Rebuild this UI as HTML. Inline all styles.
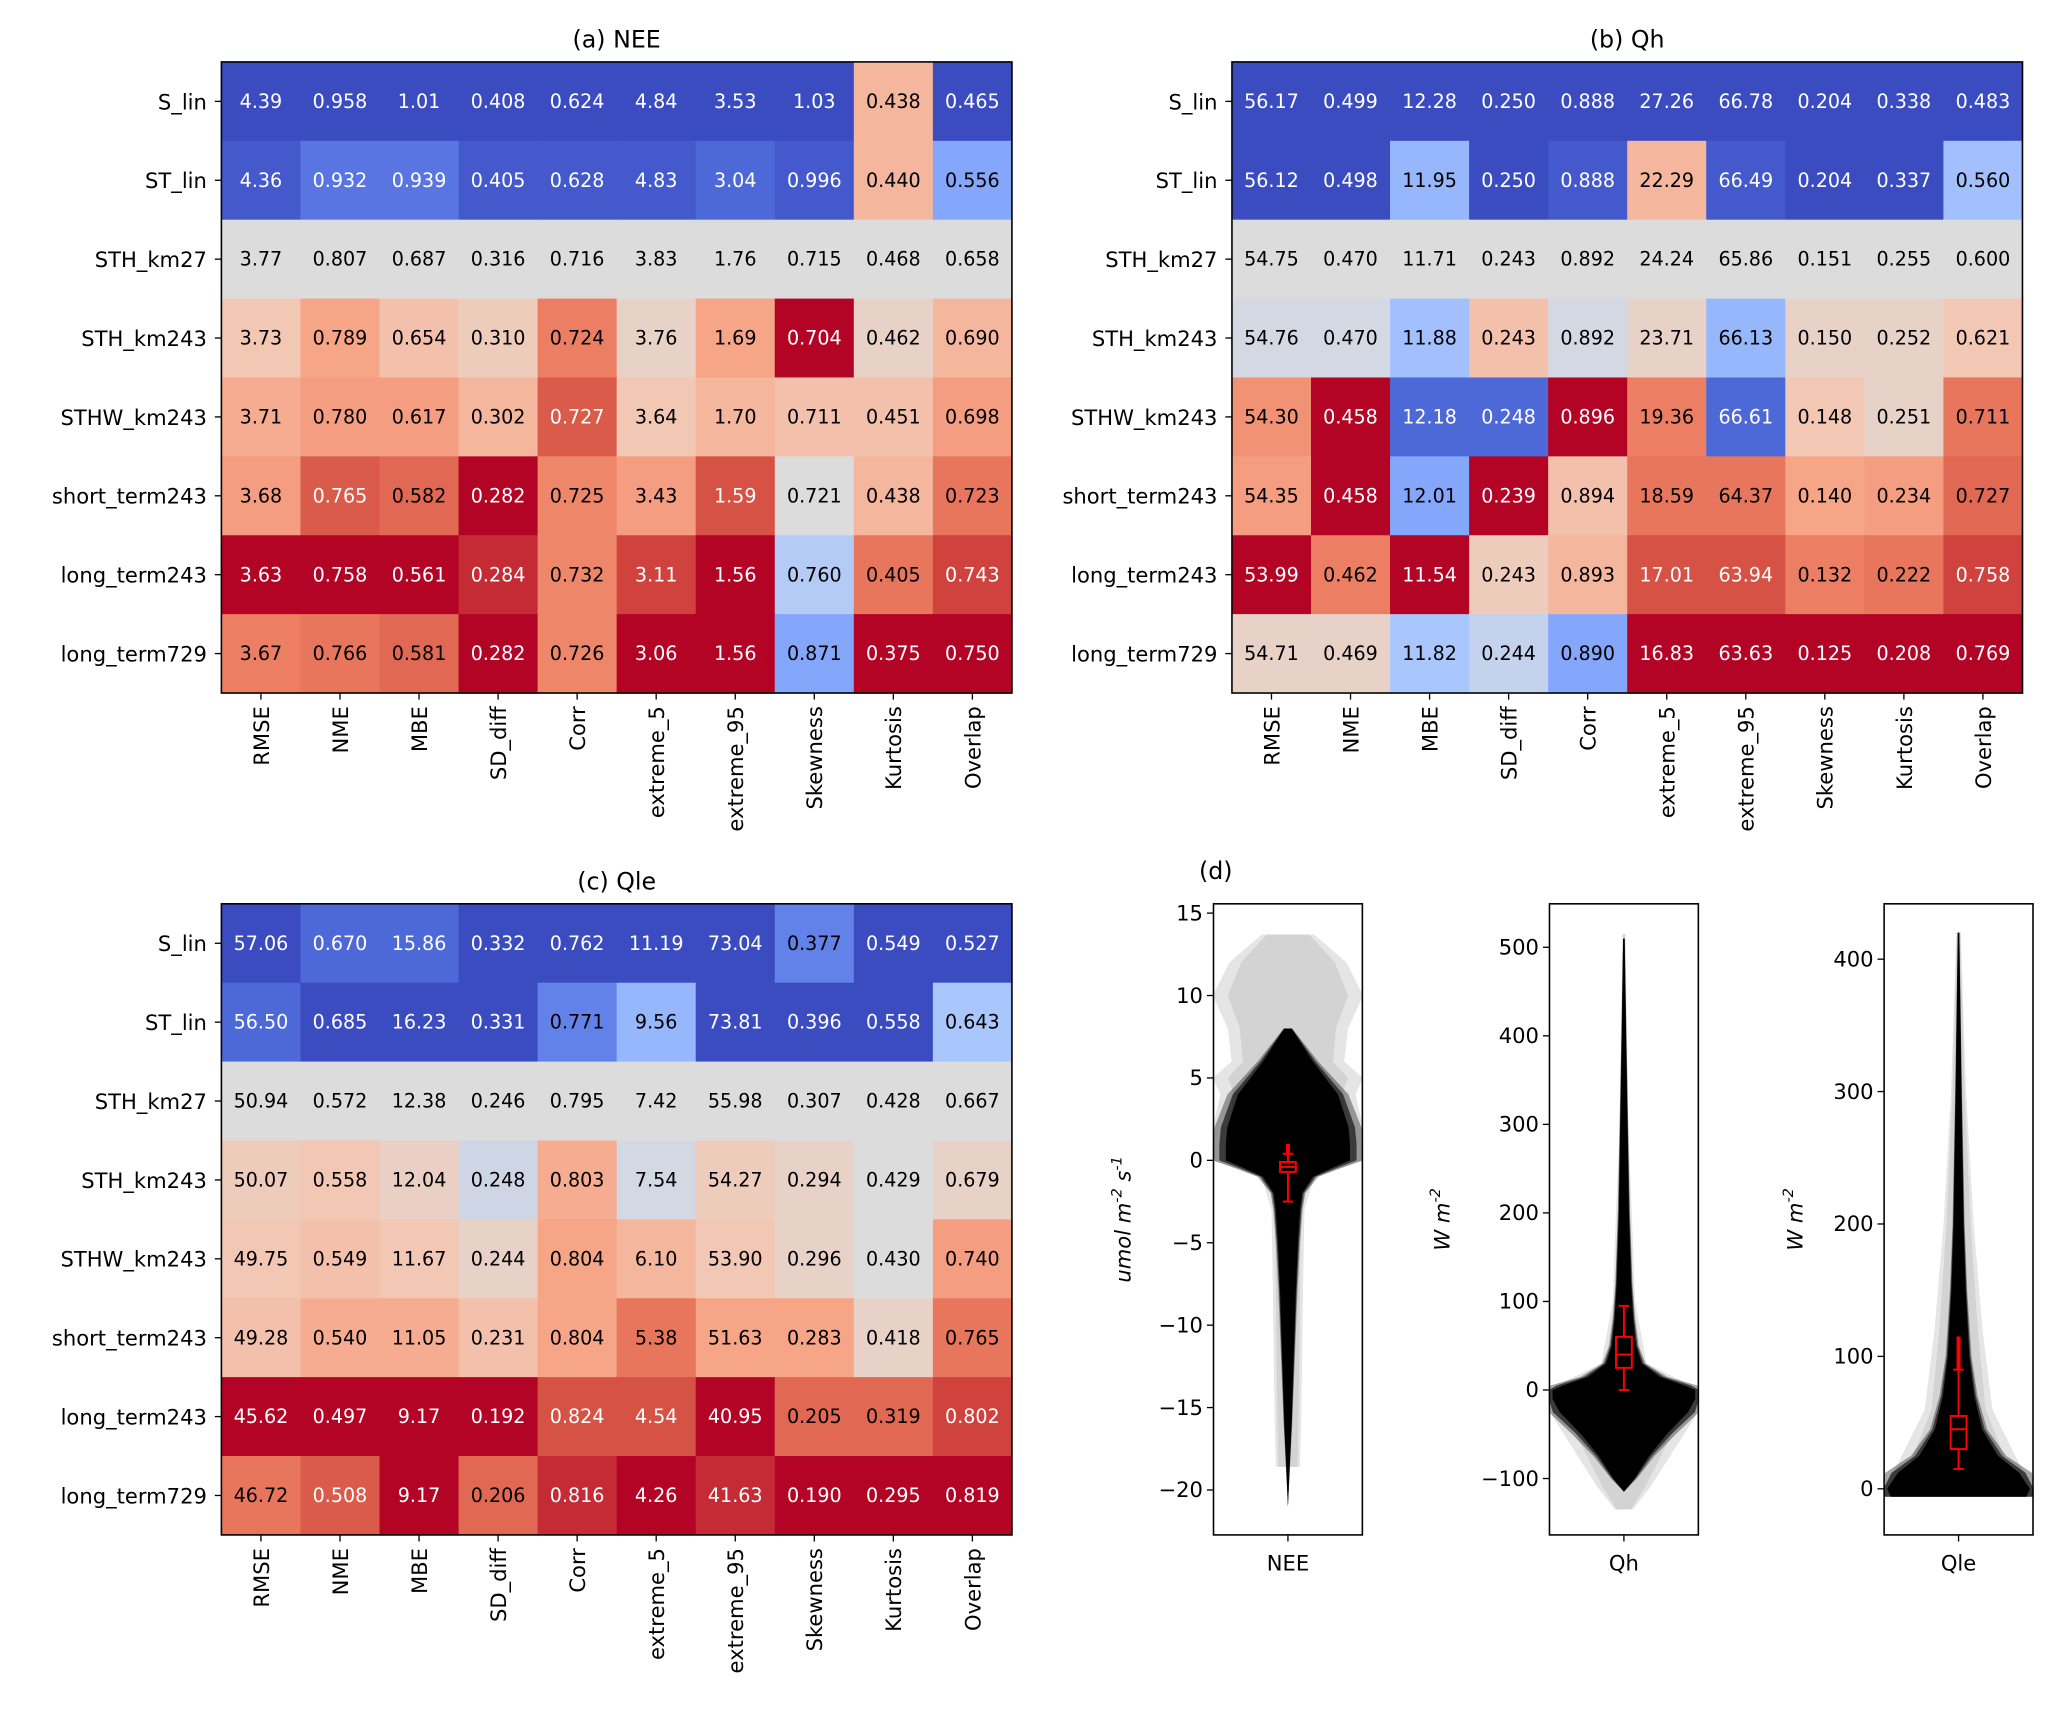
<!DOCTYPE html>
<html><head><meta charset="utf-8"><style>
html,body{margin:0;padding:0;background:#fff}
svg{display:block}
text{font-family:"DejaVu Sans","Liberation Sans",sans-serif}
</style></head><body>
<svg id="fig" width="2066" height="1722" viewBox="0 0 1568 1307" xmlns="http://www.w3.org/2000/svg">
<rect width="1568" height="1307" fill="#fff"/>
</svg>
<script>
const rows=["S_lin","ST_lin","STH_km27","STH_km243","STHW_km243","short_term243","long_term243","long_term729"];
const cols=["RMSE","NME","MBE","SD_diff","Corr","extreme_5","extreme_95","Skewness","Kurtosis","Overlap"];
const valsA=[
["4.39","0.958","1.01","0.408","0.624","4.84","3.53","1.03","0.438","0.465"],
["4.36","0.932","0.939","0.405","0.628","4.83","3.04","0.996","0.440","0.556"],
["3.77","0.807","0.687","0.316","0.716","3.83","1.76","0.715","0.468","0.658"],
["3.73","0.789","0.654","0.310","0.724","3.76","1.69","0.704","0.462","0.690"],
["3.71","0.780","0.617","0.302","0.727","3.64","1.70","0.711","0.451","0.698"],
["3.68","0.765","0.582","0.282","0.725","3.43","1.59","0.721","0.438","0.723"],
["3.63","0.758","0.561","0.284","0.732","3.11","1.56","0.760","0.405","0.743"],
["3.67","0.766","0.581","0.282","0.726","3.06","1.56","0.871","0.375","0.750"]];
const lvlA=[
[0,0,0,0,0,0,0,0,0.65,0],
[0.05,0.15,0.15,0.05,0.05,0.05,0.1,0.05,0.65,0.3],
[0.5,0.5,0.5,0.5,0.5,0.5,0.5,0.5,0.5,0.5],
[0.6,0.7,0.62,0.58,0.8,0.55,0.7,1,0.55,0.65],
[0.68,0.72,0.72,0.65,0.88,0.6,0.65,0.62,0.62,0.72],
[0.72,0.88,0.85,1,0.78,0.72,0.9,0.5,0.65,0.82],
[1,1,1,0.95,0.78,0.92,1,0.42,0.82,0.92],
[0.8,0.82,0.85,1,0.78,1,1,0.3,1,1]];
const valsB=[
["56.17","0.499","12.28","0.250","0.888","27.26","66.78","0.204","0.338","0.483"],
["56.12","0.498","11.95","0.250","0.888","22.29","66.49","0.204","0.337","0.560"],
["54.75","0.470","11.71","0.243","0.892","24.24","65.86","0.151","0.255","0.600"],
["54.76","0.470","11.88","0.243","0.892","23.71","66.13","0.150","0.252","0.621"],
["54.30","0.458","12.18","0.248","0.896","19.36","66.61","0.148","0.251","0.711"],
["54.35","0.458","12.01","0.239","0.894","18.59","64.37","0.140","0.234","0.727"],
["53.99","0.462","11.54","0.243","0.893","17.01","63.94","0.132","0.222","0.758"],
["54.71","0.469","11.82","0.244","0.890","16.83","63.63","0.125","0.208","0.769"]];
const lvlB=[
[0,0,0,0,0,0,0,0,0,0],
[0,0,0.35,0,0.05,0.65,0.05,0,0,0.38],
[0.5,0.5,0.5,0.5,0.5,0.5,0.5,0.5,0.5,0.5],
[0.48,0.48,0.38,0.62,0.48,0.55,0.35,0.55,0.55,0.6],
[0.75,1,0.1,0.1,1,0.8,0.1,0.6,0.55,0.82],
[0.72,1,0.3,1,0.62,0.82,0.82,0.7,0.72,0.85],
[1,0.8,1,0.58,0.65,0.9,0.9,0.8,0.82,0.92],
[0.55,0.55,0.4,0.45,0.3,1,1,1,1,1]];
const valsC=[
["57.06","0.670","15.86","0.332","0.762","11.19","73.04","0.377","0.549","0.527"],
["56.50","0.685","16.23","0.331","0.771","9.56","73.81","0.396","0.558","0.643"],
["50.94","0.572","12.38","0.246","0.795","7.42","55.98","0.307","0.428","0.667"],
["50.07","0.558","12.04","0.248","0.803","7.54","54.27","0.294","0.429","0.679"],
["49.75","0.549","11.67","0.244","0.804","6.10","53.90","0.296","0.430","0.740"],
["49.28","0.540","11.05","0.231","0.804","5.38","51.63","0.283","0.418","0.765"],
["45.62","0.497","9.17","0.192","0.824","4.54","40.95","0.205","0.319","0.802"],
["46.72","0.508","9.17","0.206","0.816","4.26","41.63","0.190","0.295","0.819"]];
const lvlC=[
[0,0.1,0.1,0,0,0,0,0.2,0,0],
[0.1,0,0,0,0.2,0.35,0,0,0,0.4],
[0.5,0.5,0.5,0.5,0.5,0.5,0.5,0.5,0.5,0.5],
[0.58,0.6,0.56,0.47,0.68,0.48,0.58,0.55,0.5,0.55],
[0.6,0.62,0.6,0.55,0.7,0.65,0.6,0.55,0.5,0.72],
[0.62,0.68,0.68,0.62,0.7,0.82,0.7,0.7,0.55,0.82],
[1,1,1,1,0.9,0.9,1,0.85,0.85,0.92],
[0.82,0.88,1,0.85,0.95,1,0.95,1,1,1]];

// violin density profiles (value, half-width fraction)
const neeCoreY=[8,6,4,2,1,0,-0.5,-1,-2,-3,-5,-8,-12,-16,-19,-21];
const neeCoreW=[0.05,0.35,0.7,0.85,0.87,0.87,0.6,0.35,0.2,0.17,0.14,0.11,0.08,0.05,0.02,0];
const neeHaloY=[13.7,12,10,8,6,5,4,2,0,-1,-3,-8,-15,-18.6];
const neeHaloW=[0.35,0.78,1,0.8,0.75,1,0.9,1,1,0.35,0.22,0.2,0.18,0.16];
const qhCoreY=[510,400,300,200,120,80,50,30,15,5,0,-10,-25,-50,-75,-100,-115];
const qhCoreW=[0.01,0.03,0.05,0.07,0.1,0.13,0.17,0.25,0.5,0.85,1,1,0.9,0.6,0.35,0.15,0];
const qhHaloY=[515,300,100,30,5,0,-30,-70,-110,-135];
const qhHaloW=[0.02,0.06,0.15,0.3,0.9,1,0.95,0.65,0.35,0.12];
const qleCoreY=[420,300,200,150,100,70,45,25,12,0,-6];
const qleCoreW=[0.01,0.04,0.07,0.1,0.15,0.22,0.33,0.55,0.85,1,0.95];
const qleHaloY=[420,300,200,120,60,20,0,-6];
const qleHaloW=[0.03,0.1,0.2,0.32,0.45,0.8,1,1];
const neeBox=[-2.5,-0.7,-0.4,-0.1,0.4,1.0];
const qhBox=[0,25,40,60,95,95];
const qleBox=[15,30,45,55,90,115];

const NS="http://www.w3.org/2000/svg";
const svg=document.getElementById('fig');
function mk(tag,attrs,parent,txt){const e=document.createElementNS(NS,tag);for(const k in attrs)e.setAttribute(k,attrs[k]);if(txt!==undefined)e.textContent=txt;(parent||svg).appendChild(e);return e;}
const stops=[[0,[59,76,192]],[0.1,[77,104,215]],[0.2,[98,130,234]],[0.3,[132,166,251]],[0.4,[170,199,253]],[0.5,[221,220,220]],[0.6,[242,200,180]],[0.7,[246,165,135]],[0.8,[236,127,99]],[0.9,[214,82,68]],[1,[180,4,38]]];
function cmap(v){for(let i=1;i<stops.length;i++){if(v<=stops[i][0]){const a=stops[i-1],b=stops[i],t=(v-a[0])/(b[0]-a[0]);return 'rgb('+a[1].map((c,j)=>Math.round(c+(b[1][j]-c)*t)).join(',')+')';}}return 'rgb(180,4,38)';}

function heatmap(x0,y0,title,vals,lvls,key){
  const W=600,H=479,cw=W/cols.length,ch=H/rows.length;
  const g=mk('g',{});
  
  
  const t=mk('text',{x:x0+W/2,y:y0-11,'text-anchor':'middle','font-size':18},g,title);
  
  
  rows.forEach((r,i)=>{cols.forEach((c,j)=>{
    const rc=mk('rect',{x:x0+j*cw,y:y0+i*ch,width:cw+0.5,height:ch+0.5,fill:cmap(lvls[i][j])},g);
    
    
    const l=lvls[i][j];
    const tx=mk('text',{x:x0+j*cw+cw/2,y:y0+i*ch+ch/2+5,'text-anchor':'middle','font-size':14.5,fill:(l<0.2||l>0.85)?'#fff':'#000'},g,vals[i][j]);
    
    
  });
    const rl=mk('text',{x:x0-11,y:y0+i*ch+ch/2+6,'text-anchor':'end','font-size':16},g,r);
    
    
    mk('line',{x1:x0-5,x2:x0,y1:y0+i*ch+ch/2,y2:y0+i*ch+ch/2,stroke:'#000','stroke-width':1},g);
  });
  cols.forEach((c,j)=>{
    const cx=x0+j*cw+cw/2;
    mk('line',{x1:cx,x2:cx,y1:y0+H,y2:y0+H+5,stroke:'#000','stroke-width':1},g);
    const cl=mk('text',{x:0,y:0,'text-anchor':'end','font-size':16,transform:'translate('+(cx+6)+','+(y0+H+10)+') rotate(-90)'},g,c);
    
    
  });
  mk('rect',{x:x0,y:y0,width:W,height:H,fill:'none',stroke:'#000','stroke-width':1.2},g);
}
heatmap(168,47,'(a) NEE',valsA,lvlA,'nee');
heatmap(935,47,'(b) Qh',valsB,lvlB,'qh');
heatmap(168,686,'(c) Qle',valsC,lvlC,'qle');

const dl=mk('text',{x:910,y:667,'font-size':18},svg,'(d)');



function violin(x0,key,xlabel,ylabelParts,ticks,v2y,core,halo,box,ylx){
  const W=113,y0=686,H=479,cx=x0+W/2,hw=57;
  const g=mk('g',{});
  
  
  function shape(ys,ws,fill,op,scale){
    let L=[],R=[];
    ys.forEach((v,i)=>{const y=v2y(v);L.push((cx-Math.min(ws[i]*hw*scale,hw))+','+y);R.unshift((cx+Math.min(ws[i]*hw*scale,hw))+','+y);});
    const p=mk('polygon',{points:L.concat(R).join(' '),fill:fill,'fill-opacity':op},g);
    
    
  }
  shape(halo[0],halo[1],'#000',0.1,1);
  shape(halo[0],halo[1],'#000',0.08,0.8);
  shape(core[0],core[1],'#000',0.35,1.15);
  shape(core[0],core[1],'#000',0.6,1.05);
  shape(core[0],core[1],'#000',1,0.95);
  const [wl,q1,md,q3,wh,out]=box;
  const bw=6;
  mk('line',{x1:cx,x2:cx,y1:v2y(wl),y2:v2y(q1),stroke:'red','stroke-width':1.5},g);
  mk('line',{x1:cx,x2:cx,y1:v2y(q3),y2:v2y(wh),stroke:'red','stroke-width':1.5},g);
  mk('line',{x1:cx-4,x2:cx+4,y1:v2y(wl),y2:v2y(wl),stroke:'red','stroke-width':1.5},g);
  mk('line',{x1:cx-4,x2:cx+4,y1:v2y(wh),y2:v2y(wh),stroke:'red','stroke-width':1.5},g);
  const b=mk('rect',{x:cx-bw,y:v2y(q3),width:2*bw,height:v2y(q1)-v2y(q3),fill:'none',stroke:'red','stroke-width':1.5},g);
  
  
  mk('line',{x1:cx-bw,x2:cx+bw,y1:v2y(md),y2:v2y(md),stroke:'red','stroke-width':1.5},g);
  if(out!==wh){mk('line',{x1:cx,x2:cx,y1:v2y(wh),y2:v2y(out),stroke:'red','stroke-width':3},g);}
  mk('rect',{x:x0,y:y0,width:W,height:H,fill:'none',stroke:'#000','stroke-width':1.2},g);
  ticks.forEach(t=>{const y=v2y(t);
    mk('line',{x1:x0-5,x2:x0,y1:y,y2:y,stroke:'#000'},g);
    const tl=mk('text',{x:x0-8,y:y+5.5,'text-anchor':'end','font-size':16},g,String(t).replace('-','\u2212'));
    
    
  });
  mk('line',{x1:cx,x2:cx,y1:y0+H,y2:y0+H+5,stroke:'#000'},g);
  const xl=mk('text',{x:cx,y:y0+H+27,'text-anchor':'middle','font-size':16},g,xlabel);
  
  
  const yl=mk('text',{x:0,y:0,'text-anchor':'middle','font-size':16,'font-style':'italic',transform:'translate('+ylx+','+(y0+H/2)+') rotate(-90)'},g);
  
  
  ylabelParts.forEach(p=>{mk('tspan',p[1]?{'font-size':11,dy:-7}:{dy:p[2]||0},yl,p[0]);});
}
violin(921,'nee','NEE',[['umol  m',0],['-2',1],[' s',0,7],['-1',1]],[15,10,5,0,-5,-10,-15,-20],v=>880.7-v*12.51,[neeCoreY,neeCoreW],[neeHaloY,neeHaloW],neeBox,858);
violin(1176,'qh','Qh',[['W m',0],['-2',1]],[500,400,300,200,100,0,-100],v=>1055-v*0.672,[qhCoreY,qhCoreW],[qhHaloY,qhHaloW],qhBox,1100);
violin(1430,'qle','Qle',[['W m',0],['-2',1]],[400,300,200,100,0],v=>1130-v*1.005,[qleCoreY,qleCoreW],[qleHaloY,qleHaloW],qleBox,1368);
</script>
</body></html>
